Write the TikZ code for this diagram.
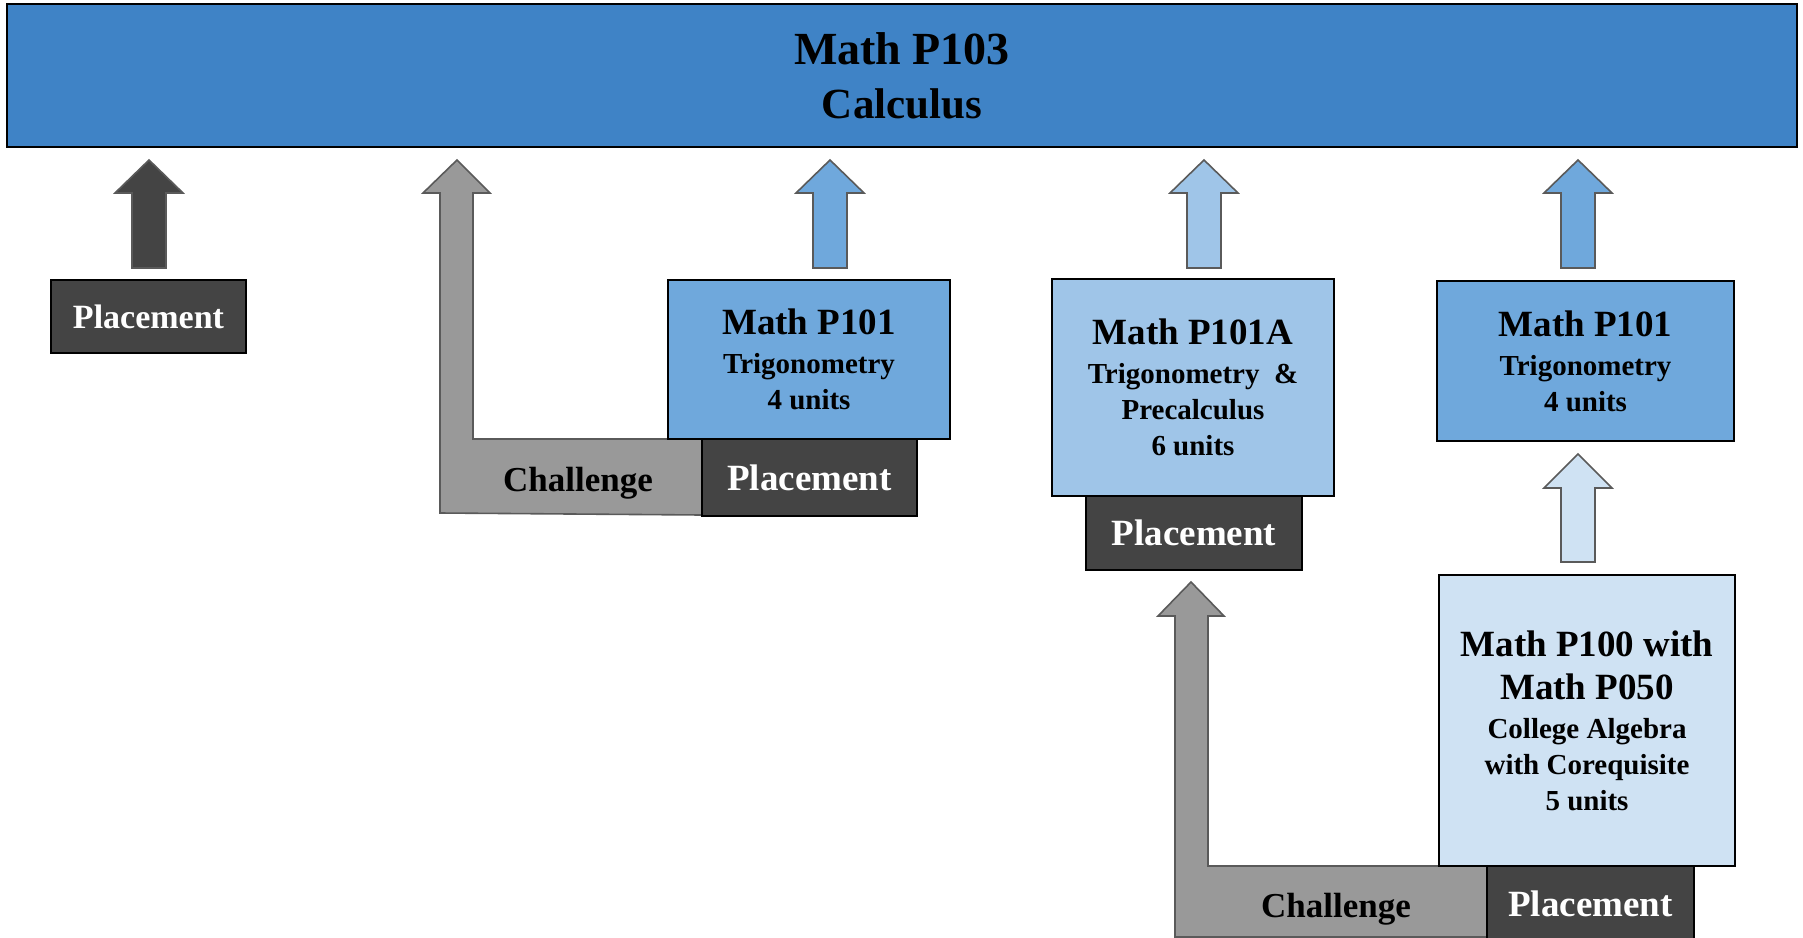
\documentclass[tikz,border=0pt]{standalone}
\usepackage{fontspec}
\setmainfont{Liberation Serif}
\definecolor{topblue}{HTML}{3F83C6}
\definecolor{midblue}{HTML}{6FA8DC}
\definecolor{lightblue}{HTML}{9FC5E8}
\definecolor{paleblue}{HTML}{CFE2F3}
\definecolor{darkbox}{HTML}{444444}
\definecolor{grayarrow}{HTML}{999999}
\definecolor{arrowedge}{HTML}{5A5A5A}
\newcommand\blockup[5]{% colour, centre x, tip y, head base y, bottom y
  \draw[arrowline, fill=#1] (#2-17,#5) -- (#2-17,#4) -- (#2-34,#4) -- (#2,#3)
    -- (#2+34,#4) -- (#2+17,#4) -- (#2+17,#5) -- cycle;}
\tikzset{
  arrowline/.style={draw=arrowedge, line width=1.6pt, line join=miter},
  coursebox/.style={draw=black, line width=1.8pt, inner sep=0pt, align=center,
    text=black, font=\fontsize{29}{36}\selectfont\bfseries},
  placebox/.style={draw=black, line width=1.6pt, inner sep=0pt, fill=darkbox,
    text=white, font=\fontsize{37}{37}\selectfont\bfseries},
  challengetext/.style={inner sep=0pt, text=black, font=\fontsize{35}{35}\selectfont\bfseries},
}
\newcommand\bigline[1]{{\fontsize{37}{37}\selectfont #1}}
\newcommand\toppad{\rule{0pt}{0pt}\\[-30pt]}
\begin{document}
\begin{tikzpicture}[x=1pt, y=-1pt]
\useasboundingbox (0,0) rectangle (1803,937);

% top bar
\node[draw=black, line width=2pt, fill=topblue, inner sep=0pt, minimum width=1790pt, minimum height=143pt,
  align=center, font=\fontsize{46}{54}\selectfont\bfseries, text=black] (calc) at (902,75.5)
  {Math P103\\ {\fontsize{43}{54}\selectfont Calculus}};

% gray challenge arrows (under boxes)
\draw[arrowline, fill=grayarrow] (440,513) -- (440,193) -- (423,193) -- (457,160) -- (490,193)
  -- (473,193) -- (473,439) -- (702,439) -- (702,515) -- cycle;
\draw[arrowline, fill=grayarrow] (1175,937) -- (1175,616) -- (1158,616) -- (1191,582) -- (1224,616)
  -- (1208,616) -- (1208,866) -- (1487,866) -- (1487,937) -- cycle;
\node[challengetext] (ch1) at (578,483) {Challenge};
\node[challengetext] (ch2) at (1336,909) {Challenge};

% up arrows to calculus
\blockup{darkbox}{149}{160}{193}{268}
\blockup{midblue}{830}{160}{193}{268}
\blockup{lightblue}{1204}{160}{193}{268}
\blockup{midblue}{1578}{160}{193}{268}
\blockup{paleblue}{1578}{454}{488}{562}

% course boxes
\node[coursebox, fill=midblue, minimum width=282pt, minimum height=159pt] (p101a) at (809,359.5)
  {\bigline{Math P101}\\[3pt]Trigonometry\\4 units};
\node[coursebox, fill=lightblue, minimum width=282pt, minimum height=217pt] (p101A) at (1193,387.5)
  {\bigline{Math P101A}\\[3pt]Trigonometry~~\&\\Precalculus\\6 units};
\node[coursebox, fill=midblue, minimum width=297pt, minimum height=160pt] (p101b) at (1585.5,361)
  {\bigline{Math P101}\\[3pt]Trigonometry\\4 units};
\node[coursebox, fill=paleblue, minimum width=296pt, minimum height=291pt] (p100) at (1587,720.5)
  {\bigline{Math P100 with}\\[7pt]\bigline{Math P050}\\[3pt]College Algebra\\with Corequisite\\5 units};

% placement boxes
\node[placebox, font=\fontsize{34}{34}\selectfont\bfseries, minimum width=195pt, minimum height=73pt] (pl1) at (148.5,316.5) {Placement};
\node[placebox, minimum width=215pt, minimum height=77pt] (pl2) at (809.5,477.5) {Placement};
\node[placebox, minimum width=216pt, minimum height=74pt] (pl3) at (1194,533) {Placement};
\node[placebox, minimum width=207pt, minimum height=76pt] (pl4) at (1590.5,904) {Placement};
\end{tikzpicture}
\end{document}
